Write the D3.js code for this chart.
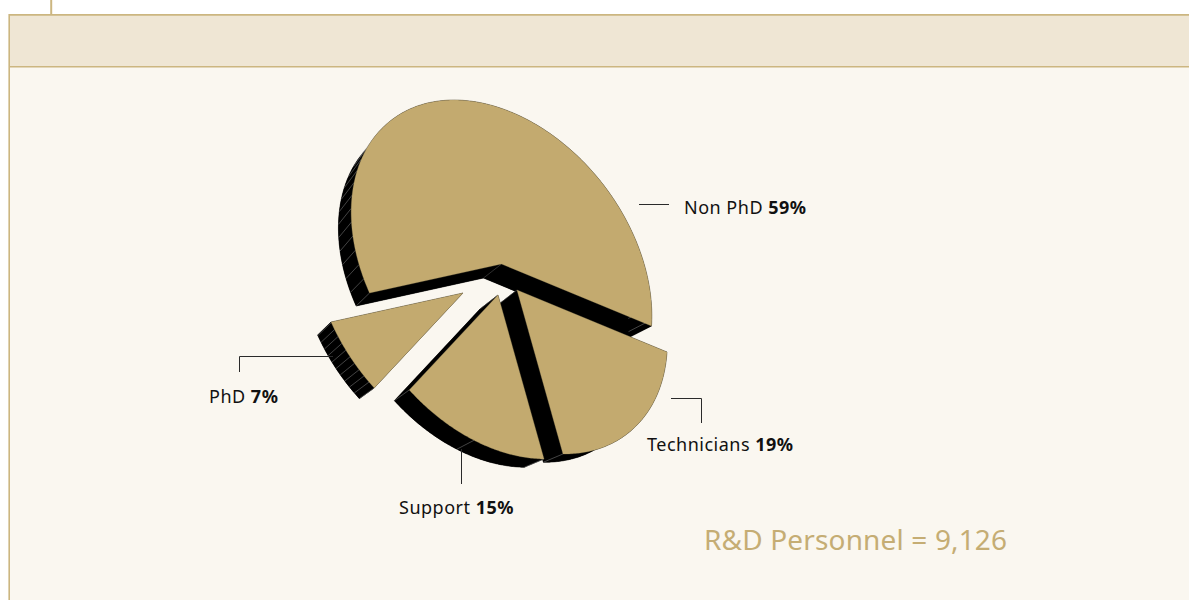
<!DOCTYPE html>
<html>
<head>
<meta charset="utf-8">
<script src="https://cdn.jsdelivr.net/npm/d3@7/dist/d3.min.js"></script>
<style>
  html, body { margin: 0; padding: 0; background: #fff; }
  svg { display: block; }
  text { font-family: "Noto Sans", "Open Sans", sans-serif; }
</style>
</head>
<body>
<svg id="chart" width="1189" height="600"></svg>
<script>
// Share of R&D personnel by category
const categories = ["Technicians", "Support", "PhD", "Non PhD"];
const shares = [19, 15, 7, 59];
const totalLabel = "R&D Personnel = 9,126";

// Where each wedge sits once pulled out of the pie
const wedgeCentres = [[517, 290], [498, 295], [463, 293], [501.5, 264]];
// Spacing of the fine lines on each wedge's side wall, in degrees
const hatchSteps = [34.2, 27, 2.5, 5];
// Label anchor and leader line for each wedge
const labelAnchors = [[647, 450.5], [399, 513.5], [209, 402.5], [684, 213.5]];
const leaders = [
  [[671, 398.5], [701.5, 398.5], [701.5, 423]],
  [[461.5, 449], [461.5, 484]],
  [[239.5, 372], [239.5, 356.5], [333, 356.5]],
  [[639, 204.5], [669, 204.5]]
];

const tan = "#c3aa6f";
const rule = "#ccb680";
const svg = d3.select("#chart");

// Page furniture: tab mark, header band and panel
svg.append("rect").attr("x", 9).attr("y", 15).attr("width", 1180).attr("height", 585).attr("fill", "#faf7f0");
svg.append("rect").attr("x", 9).attr("y", 15).attr("width", 1180).attr("height", 52).attr("fill", "#efe6d4");
const frame = d3.line();
[
  [[[51.2, 0], [51.2, 15]], 2],
  [[[1189, 14.9], [9.2, 14.9], [9.2, 600]], 1.6],
  [[[9.2, 66.7], [1189, 66.7]], 1.6]
].forEach(([p, w]) =>
  svg.append("path").attr("d", frame(p)).attr("fill", "none").attr("stroke", rule)
    .attr("stroke-width", w));

// Tilted disc: maps a pie angle and a radius to page offsets from a wedge's centre
const tilt = (angle, r) => {
  const c = Math.cos(angle), s = Math.sin(angle);
  return [r * (150 * c - 9.9 * s), r * (62 * c + 151.8 * s)];
};
const backScale = 0.965;
const backOffset = [-18, 14];

const pie = d3.pie().sort(null).startAngle(0).endAngle(2 * Math.PI);
const arcs = pie(shares);
const line = d3.line();

const arcPoints = (a0, a1, cx, cy, r) =>
  d3.range(0, 1.0001, 1 / Math.ceil((a1 - a0) * 90)).map(f => {
    const p = tilt(a0 + (a1 - a0) * f, r);
    return [cx + p[0], cy + p[1]];
  });

const drawOrder = [3, 0, 1, 2];
drawOrder.forEach(i => {
  const d = arcs[i];
  const [cx, cy] = wedgeCentres[i];
  const bx = cx + backOffset[0], by = cy + backOffset[1];
  const front = arcPoints(d.startAngle, d.endAngle, cx, cy, 1);
  const back = arcPoints(d.startAngle, d.endAngle, bx, by, backScale);
  const g = svg.append("g").attr("class", "wedge");

  // Side walls: back face, rim and the two cut faces
  const walls = [
    [[bx, by], ...back],
    [...front, ...back.slice().reverse()],
    [[cx, cy], front[0], back[0], [bx, by]],
    [[cx, cy], front[front.length - 1], back[back.length - 1], [bx, by]]
  ];
  walls.forEach(w => g.append("path").attr("d", line(w) + "Z").attr("fill", "#000")
    .attr("stroke", "#000").attr("stroke-width", 0.3));

  // Fine facet lines on the rim and at the centre edge
  const step = hatchSteps[i] * Math.PI / 180;
  d3.range(d.startAngle, d.endAngle + 1e-6, step).forEach(a => {
    const f = tilt(a, 1), b = tilt(a, backScale);
    g.append("path")
      .attr("d", line([[cx + f[0], cy + f[1]], [bx + b[0], by + b[1]]]))
      .attr("stroke", "#a8a8a8").attr("stroke-width", 0.4).attr("fill", "none");
  });
  g.append("path").attr("d", line([[cx, cy], [bx, by]]))
    .attr("stroke", "#777").attr("stroke-width", 0.4).attr("fill", "none");

  // Top face
  g.append("path").attr("d", line([[cx, cy], ...front]) + "Z")
    .attr("fill", tan).attr("stroke", "#a39163").attr("stroke-width", 0.3);
});

// Leader lines and labels
leaders.forEach(p => {
  svg.append("path").attr("d", line(p)).attr("fill", "none")
    .attr("stroke", "#2a2a2a").attr("stroke-width", 1);
});
categories.forEach((name, i) => {
  const t = svg.append("text").attr("x", labelAnchors[i][0]).attr("y", labelAnchors[i][1])
    .attr("font-size", 18).attr("letter-spacing", 0.5).attr("fill", "#111");
  t.append("tspan").text(name + " ");
  t.append("tspan").attr("font-weight", 700).text(shares[i] + "%");
});

svg.append("text").attr("x", 704).attr("y", 550)
  .attr("font-size", 28).attr("letter-spacing", 0.15).attr("fill", "#c5ad74").text(totalLabel);
</script>
</body>
</html>
